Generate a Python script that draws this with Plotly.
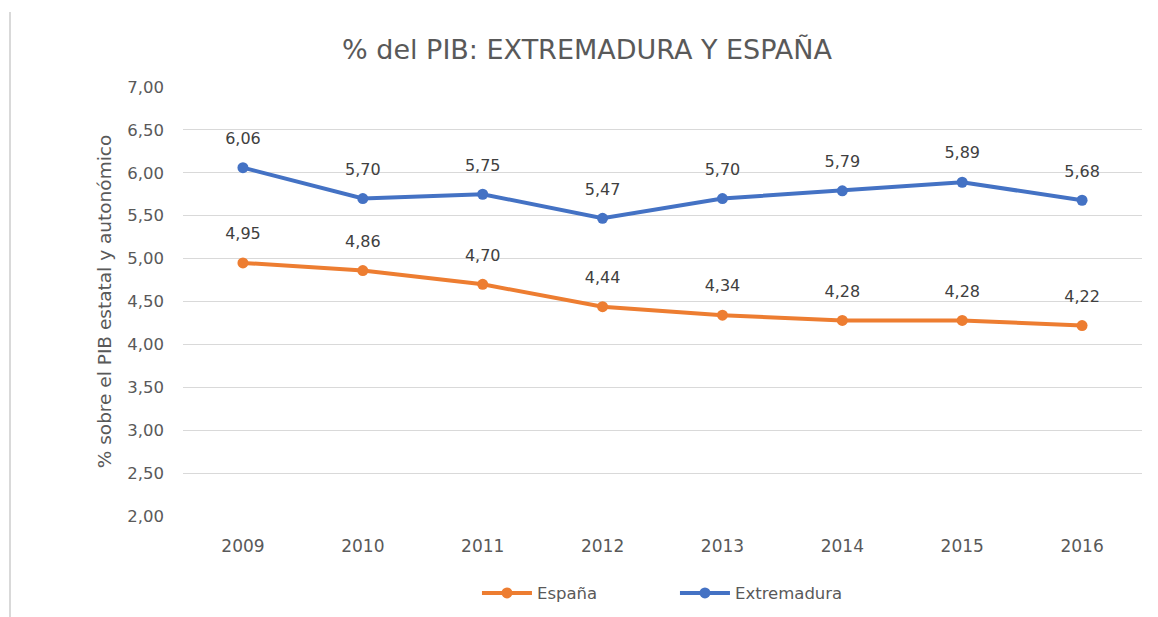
import plotly.graph_objects as go

years = ["2009", "2010", "2011", "2012", "2013", "2014", "2015", "2016"]
espana = [4.95, 4.86, 4.70, 4.44, 4.34, 4.28, 4.28, 4.22]
extremadura = [6.06, 5.70, 5.75, 5.47, 5.70, 5.79, 5.89, 5.68]
y_ticks = [2.0, 2.5, 3.0, 3.5, 4.0, 4.5, 5.0, 5.5, 6.0, 6.5, 7.0]

def fmt(v):
    return f"{v:.2f}".replace(".", ",")

FONT = "DejaVu Sans, sans-serif"
GREY = "#595959"

fig = go.Figure()
series = [("España", espana, "#ED7D31"), ("Extremadura", extremadura, "#4472C4")]
for name, vals, color in series:
    fig.add_trace(go.Scatter(
        x=years, y=vals, name=name, mode="lines+markers",
        line=dict(color=color, width=4),
        marker=dict(color=color, size=11),
        cliponaxis=False,
    ))
for name, vals, color in series:
    # data labels: invisible large markers push the text above the points
    fig.add_trace(go.Scatter(
        x=years, y=vals, mode="markers+text", showlegend=False, hoverinfo="skip",
        marker=dict(size=30, opacity=0),
        text=[fmt(v) for v in vals], textposition="top center",
        textfont=dict(family=FONT, size=16, color="#404040"),
        cliponaxis=False,
    ))

fig.update_layout(
    width=1158, height=617,
    paper_bgcolor="white", plot_bgcolor="white",
    margin=dict(l=175, r=24, t=79, b=109),
    font=dict(family=FONT, color=GREY, size=14),
    title=dict(text="% del PIB: EXTREMADURA Y ESPAÑA", x=0.5, xref="container",
               y=1 - 42 / 617, yref="container", yanchor="middle",
               font=dict(family=FONT, size=27, color=GREY)),
    xaxis=dict(type="category", range=[-0.5, 7.5], showgrid=False, zeroline=False,
               showline=False, ticks="", ticklabelstandoff=18,
               tickfont=dict(size=17, color=GREY)),
    yaxis=dict(range=[2.0, 7.0], tickvals=y_ticks, ticktext=[fmt(v) for v in y_ticks],
               showgrid=True, gridcolor="#D9D9D9", gridwidth=1, zeroline=False,
               showline=False, ticks="", ticklabelstandoff=18,
               tickfont=dict(size=16.5, color=GREY),
               title=dict(text="% sobre el PIB estatal y autonómico", standoff=10,
                          font=dict(size=18.5, color=GREY))),
    legend=dict(orientation="h", x=0.513, xanchor="center", y=-0.18, yanchor="middle",
                font=dict(size=16.5, color=GREY), itemwidth=50,
                entrywidth=133, entrywidthmode="pixels"),
    showlegend=True,
)
fig.add_shape(type="line", xref="paper", yref="paper",
              x0=(2 - 175) / 959, x1=(2 - 175) / 959, y0=1 + 75 / 429, y1=-120 / 429,
              line=dict(color="#D9D9D9", width=2))

fig.write_html("out.html")
